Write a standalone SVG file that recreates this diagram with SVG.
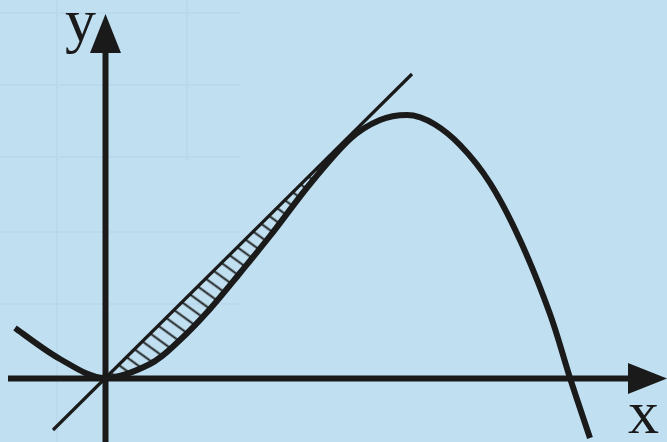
<svg xmlns="http://www.w3.org/2000/svg" width="667" height="442" viewBox="0 0 667 442">
<defs>
<style>
.ink{stroke:#1a1a1a;fill:none}
.grid{stroke:#bad9ec;stroke-width:2;fill:none}
.lbl{font-family:"Liberation Serif","Times New Roman",serif;font-size:62px;fill:#1a1a1a}
</style>
<pattern id="hatch" patternUnits="userSpaceOnUse" width="30" height="11" patternTransform="rotate(36)">
<line x1="0" y1="5.5" x2="30" y2="5.5" stroke="#1a1a1a" stroke-width="1.9"/>
</pattern>
</defs>
<rect width="667" height="442" fill="#c0e0f1"/>
<g id="grid">
<path class="grid" d="M0,13 H240 M0,85 H240 M0,157 H240 M0,232 H240 M0,304 H240 M57,0 V442 M187,0 V160"/>
</g>
<g id="hatching">
<path fill="url(#hatch)" d="M105,378 L350,136.2 L350,139 C338.3,149.7 323.3,167.8 310,184 C296.7,200.2 281.7,221.2 270,236 C258.3,250.8 250,260.8 240,273 C230,285.2 220,297.8 210,309 C200,320.2 190,330.8 180,340 C170,349.2 162.5,357.7 150,364 C137.5,370.3 120,378 105,378 Z"/>
</g>
<g id="axes">
<line class="ink" x1="8" y1="378.5" x2="632" y2="378.5" stroke-width="6"/>
<polygon points="667,378.5 628,363 628,394" fill="#1a1a1a"/>
<line class="ink" x1="105.5" y1="442" x2="105.5" y2="50" stroke-width="6"/>
<polygon points="105.5,14 90,53 121,53" fill="#1a1a1a"/>
</g>
<g id="tangent">
<line class="ink" x1="53" y1="430" x2="412" y2="74" stroke-width="3.2"/>
</g>
<g id="curve">
<path class="ink" stroke-width="6" d="M15,328 C22.5,333.2 45,350.7 60,359 C75,367.3 90,378 105,378 C120,378 137.5,370.3 150,364 C162.5,357.7 170,349.2 180,340 C190,330.8 200,320.2 210,309 C220,297.8 230,285.2 240,273 C250,260.8 258.3,250.8 270,236 C281.7,221.2 296.7,200.2 310,184 C323.3,167.8 338.3,149.7 350,139 C361.7,128.3 370.5,124 380,120 C389.5,116 397,115 407,115 C425,115 446,130.3 460,145 C470,155.3 480,167.2 490,183 C500,198.8 510,218.2 520,240 C530,261.8 541.7,291 550,314 C558.3,337 563.3,357.3 570,378 C576.7,398.7 586.7,428 590,438"/>
</g>
<g id="labels">
<text class="lbl" x="65" y="41">y</text>
<text class="lbl" x="628" y="433">x</text>
</g>
</svg>
